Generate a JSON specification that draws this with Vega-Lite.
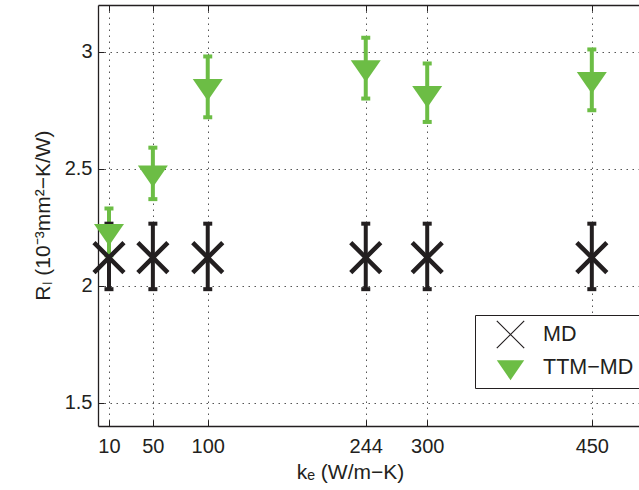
{
  "$schema": "https://vega.github.io/schema/vega-lite/v6.json",
  "width": 541,
  "height": 421,
  "autosize": "none",
  "padding": {"left": 98, "top": 5, "right": 0, "bottom": 64},
  "background": "white",
  "config": {
    "view": {"stroke": null},
    "font": "Liberation Sans",
    "axis": {
      "domainColor": "#231f20",
      "domainWidth": 1.3,
      "tickColor": "#231f20",
      "tickSize": -6,
      "tickWidth": 1,
      "gridColor": "#555555",
      "gridDash": [1.5, 4.5],
      "gridWidth": 1,
      "labelFont": "Liberation Sans",
      "labelFontSize": 20,
      "labelColor": "#231f20",
      "labelFlush": false,
      "labelOverlap": false,
      "titleFont": "Liberation Sans",
      "titleFontSize": 21,
      "titleFontWeight": "normal",
      "titleColor": "#231f20"
    },
    "legend": {
      "orient": "none",
      "legendX": 377,
      "legendY": 310,
      "strokeColor": "#231f20",
      "fillColor": "white",
      "padding": 5,
      "symbolSize": 750,
      "symbolOffset": 16,
      "labelOffset": 18,
      "rowPadding": 2,
      "symbolStrokeWidth": 1.2,
      "labelFontSize": 21.5,
      "labelFont": "Liberation Sans",
      "labelColor": "#231f20"
    }
  },
  "data": {
    "values": [
      {"series": "MD", "ke": 10, "value": 2.12, "lo": 1.985, "hi": 2.265},
      {"series": "MD", "ke": 50, "value": 2.12, "lo": 1.985, "hi": 2.265},
      {"series": "MD", "ke": 100, "value": 2.12, "lo": 1.985, "hi": 2.265},
      {"series": "MD", "ke": 244, "value": 2.12, "lo": 1.985, "hi": 2.265},
      {"series": "MD", "ke": 300, "value": 2.12, "lo": 1.985, "hi": 2.265},
      {"series": "MD", "ke": 450, "value": 2.12, "lo": 1.985, "hi": 2.265},
      {"series": "TTM−MD", "ke": 10, "value": 2.23, "lo": 2.13, "hi": 2.33},
      {"series": "TTM−MD", "ke": 50, "value": 2.48, "lo": 2.37, "hi": 2.59},
      {"series": "TTM−MD", "ke": 100, "value": 2.85, "lo": 2.72, "hi": 2.98},
      {"series": "TTM−MD", "ke": 244, "value": 2.93, "lo": 2.8, "hi": 3.06},
      {"series": "TTM−MD", "ke": 300, "value": 2.82, "lo": 2.7, "hi": 2.95},
      {"series": "TTM−MD", "ke": 450, "value": 2.88, "lo": 2.75, "hi": 3.01}
    ]
  },
  "layer": [
    {
      "mark": {"type": "rule", "strokeWidth": 4},
      "encoding": {
        "x": {
          "field": "ke", "type": "quantitative", "title": "kₑ (W/m−K)",
          "scale": {"domain": [0, 493], "nice": false, "zero": false},
          "axis": {"orient": "bottom", "values": [10, 50, 100, 244, 300, 450], "grid": true, "labelPadding": 16, "titleX": 252, "titleY": 52, "titleBaseline": "alphabetic", "titleAnchor": "middle"}
        },
        "y": {
          "field": "lo", "type": "quantitative", "title": "Rₗ (10⁻³mm²−K/W)",
          "scale": {"domain": [1.4, 3.2], "nice": false, "zero": false},
          "axis": {"orient": "left", "values": [1.5, 2, 2.5, 3], "format": "~g", "grid": true, "labelPadding": 12, "titleX": -49, "titleY": 210, "titleBaseline": "alphabetic", "titleAnchor": "middle"}
        },
        "y2": {"field": "hi"},
        "color": {"field": "series", "type": "nominal", "scale": {"domain": ["MD", "TTM−MD"], "range": ["#231f20", "#6cbd45"]}, "legend": null}
      }
    },
    {
      "mark": {"type": "tick", "orient": "horizontal", "size": 9, "thickness": 4, "opacity": 1},
      "encoding": {
        "x": {"field": "ke", "type": "quantitative", "axis": null},
        "y": {"field": "lo", "type": "quantitative", "title": "Rₗ (10⁻³mm²−K/W)"},
        "color": {"field": "series", "type": "nominal", "legend": null}
      }
    },
    {
      "mark": {"type": "tick", "orient": "horizontal", "size": 9, "thickness": 4, "opacity": 1},
      "encoding": {
        "x": {"field": "ke", "type": "quantitative",
          "axis": {"orient": "top", "values": [10, 50, 100, 244, 300, 450], "labels": false, "title": null, "grid": false}},
        "y": {"field": "hi", "type": "quantitative", "title": "Rₗ (10⁻³mm²−K/W)"},
        "color": {"field": "series", "type": "nominal", "legend": null}
      }
    },
    {
      "mark": {"type": "point", "size": 900, "strokeWidth": 4.5, "opacity": 1},
      "encoding": {
        "x": {"field": "ke", "type": "quantitative", "axis": null},
        "y": {"field": "value", "type": "quantitative", "title": "Rₗ (10⁻³mm²−K/W)"},
        "shape": {
          "field": "series", "type": "nominal", "title": null,
          "scale": {"range": ["M-1,-1L1,1M-1,1L1,-1", "M-1,-0.53L1,-0.53L0,0.93Z"]},
          "legend": {
            "labelExpr": "datum.label + '\u00a0\u00a0\u00a0\u00a0\u00a0\u00a0\u00a0\u00a0'",
            "encode": {"symbols": {"strokeWidth": {"value": 1.2}}}
          }
        },
        "fill": {
          "field": "series", "type": "nominal", "title": null,
          "scale": {"range": ["#231f20", "#6cbd45"]},
          "legend": {
            "labelExpr": "datum.label + '\u00a0\u00a0\u00a0\u00a0\u00a0\u00a0\u00a0\u00a0'",
            "encode": {"symbols": {"strokeWidth": {"value": 1.2}}}
          }
        },
        "stroke": {
          "field": "series", "type": "nominal", "title": null,
          "scale": {"range": ["#231f20", "transparent"]},
          "legend": {
            "labelExpr": "datum.label + '\u00a0\u00a0\u00a0\u00a0\u00a0\u00a0\u00a0\u00a0'",
            "encode": {"symbols": {"strokeWidth": {"value": 1.2}}}
          }
        }
      }
    }
  ]
}
